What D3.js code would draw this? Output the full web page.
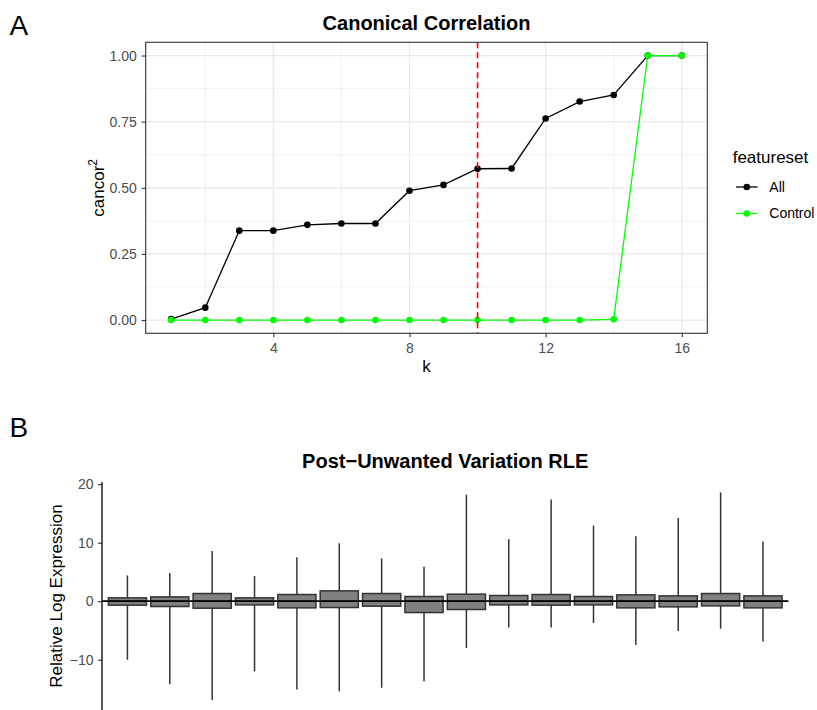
<!DOCTYPE html>
<html>
<head>
<meta charset="utf-8">
<script src="https://cdn.jsdelivr.net/npm/d3@7"></script>
<style>
body { margin: 0; background: #fff; }
text { font-family: "Liberation Sans", Arial, Helvetica, sans-serif; }
</style>
</head>
<body>
<div id="chart-container"></div>
<script>
// ---- Panel A data (canonical correlation per k)
const kValues = [1, 2, 3, 4, 5, 6, 7, 8, 9, 10, 11, 12, 13, 14, 15, 16];
const allCancor = [0.004, 0.047, 0.338, 0.338, 0.360, 0.365, 0.365, 0.489, 0.511, 0.572, 0.573, 0.762, 0.826, 0.851, 1.0, 1.0];
const controlCancor = [0, 0, 0, 0, 0, 0, 0, 0, 0, 0, 0, 0, 0, 0.003, 1.0, 1.0];
const chosenK = 10;
const featuresets = ["All", "Control"];
const featureColors = ["#000000", "#00ff00"];
const xTicksA = [4, 8, 12, 16];
const yTicksA = [0, 0.25, 0.5, 0.75, 1];

// ---- Panel B data (RLE boxplots, one per sample)
const samples = ["1", "2", "3", "4", "5", "6", "7", "8", "9", "10", "11", "12", "13", "14", "15", "16"];
const whiskerLow = [-10.0, -14.2, -16.9, -12.0, -15.1, -15.4, -14.8, -13.7, -8.0, -4.5, -4.5, -3.7, -7.5, -5.1, -4.7, -6.9];
const boxLow = [-0.68, -0.91, -1.20, -0.63, -1.14, -1.08, -0.85, -1.94, -1.42, -0.63, -0.68, -0.63, -1.14, -0.97, -0.80, -1.14];
const medians = [0, 0, 0, 0, 0, 0, 0, 0, 0, 0, 0, 0, 0, 0, 0, 0];
const boxHigh = [0.57, 0.74, 1.31, 0.57, 1.14, 1.77, 1.31, 0.80, 1.20, 0.97, 1.14, 0.80, 1.08, 0.91, 1.31, 0.91];
const whiskerHigh = [4.4, 4.8, 8.6, 4.3, 7.5, 9.9, 7.3, 5.9, 18.2, 10.6, 17.4, 12.9, 11.1, 14.2, 18.6, 10.2];
const yTicksB = [-10, 0, 10, 20];

const W = 817, H = 710;
const svg = d3.select("#chart-container")
  .append("svg")
  .attr("width", W)
  .attr("height", H)
  .style("display", "block");

svg.append("rect").attr("width", W).attr("height", H).attr("fill", "#fff");

const tickColor = "#4d4d4d";

// ================= Panel A =================
const pa = {left: 145.7, top: 42.3, right: 707.3, bottom: 333.3};

const kExt = d3.extent(kValues);
const kPad = (kExt[1] - kExt[0]) * 0.05;
const x = d3.scaleLinear()
  .domain([kExt[0] - kPad, kExt[1] + kPad])
  .range([pa.left, pa.right]);

const cExt = d3.extent(allCancor.concat(controlCancor));
const cPad = (cExt[1] - cExt[0]) * 0.05;
const y = d3.scaleLinear()
  .domain([cExt[0] - cPad, cExt[1] + cPad])
  .range([pa.bottom, pa.top]);

const gA = svg.append("g");

// grid
const xMinor = xTicksA.map(t => t - 2);
const yMinor = yTicksA.slice(1).map(t => t - 0.125);
gA.selectAll(".xminor").data(xMinor).join("line")
  .attr("x1", d => x(d)).attr("x2", d => x(d))
  .attr("y1", pa.top).attr("y2", pa.bottom)
  .attr("stroke", "#ebebeb").attr("stroke-width", 0.7);
gA.selectAll(".yminor").data(yMinor).join("line")
  .attr("x1", pa.left).attr("x2", pa.right)
  .attr("y1", d => y(d)).attr("y2", d => y(d))
  .attr("stroke", "#ebebeb").attr("stroke-width", 0.7);
gA.selectAll(".xmajor").data(xTicksA).join("line")
  .attr("x1", d => x(d)).attr("x2", d => x(d))
  .attr("y1", pa.top).attr("y2", pa.bottom)
  .attr("stroke", "#e8e8e8").attr("stroke-width", 1.2);
gA.selectAll(".ymajor").data(yTicksA).join("line")
  .attr("x1", pa.left).attr("x2", pa.right)
  .attr("y1", d => y(d)).attr("y2", d => y(d))
  .attr("stroke", "#e8e8e8").attr("stroke-width", 1.2);

// lines + points
const series = featuresets.map((name, i) => ({
  name: name,
  color: featureColors[i],
  values: kValues.map((k, j) => ({k: k, v: i === 0 ? allCancor[j] : controlCancor[j]}))
}));

const line = d3.line()
  .x(d => x(d.k))
  .y(d => y(d.v));

gA.selectAll(".line").data(series).join("path")
  .attr("class", "line")
  .attr("d", d => line(d.values))
  .attr("fill", "none")
  .attr("stroke", d => d.color)
  .attr("stroke-width", 1.3);

series.forEach(s => {
  gA.append("g").selectAll("circle").data(s.values).join("circle")
    .attr("cx", d => x(d.k))
    .attr("cy", d => y(d.v))
    .attr("r", 3.3)
    .attr("fill", s.color);
});

// chosen k
gA.append("line")
  .attr("x1", x(chosenK)).attr("x2", x(chosenK))
  .attr("y1", pa.top).attr("y2", pa.bottom)
  .attr("stroke", "#ff0000")
  .attr("stroke-width", 1.6)
  .attr("stroke-dasharray", "6,4");

// border
gA.append("rect")
  .attr("x", pa.left).attr("y", pa.top)
  .attr("width", pa.right - pa.left).attr("height", pa.bottom - pa.top)
  .attr("fill", "none").attr("stroke", "#333").attr("stroke-width", 1.1);

// axes
const styleAxis = g => {
  g.select(".domain").remove();
  g.selectAll(".tick line").attr("stroke", "#333").attr("stroke-width", 1.1);
  g.selectAll(".tick text").attr("fill", tickColor)
    .style("font-family", '"Liberation Sans", Arial, sans-serif')
    .style("font-size", "14px");
};

gA.append("g")
  .attr("transform", `translate(0,${pa.bottom})`)
  .call(d3.axisBottom(x).tickValues(xTicksA).tickSize(4).tickPadding(5.5))
  .call(styleAxis);

gA.append("g")
  .attr("transform", `translate(${pa.left},0)`)
  .call(d3.axisLeft(y).tickValues(yTicksA).tickFormat(d3.format(".2f")).tickSize(4).tickPadding(5))
  .call(styleAxis);

// titles
gA.append("text")
  .attr("x", (pa.left + pa.right) / 2).attr("y", 30)
  .attr("text-anchor", "middle")
  .style("font-size", "20px").style("font-weight", "bold")
  .text("Canonical Correlation");

gA.append("text")
  .attr("x", (pa.left + pa.right) / 2).attr("y", 372)
  .attr("text-anchor", "middle")
  .style("font-size", "17px")
  .text("k");

const yTitleA = gA.append("text")
  .attr("transform", `translate(103.5,${(pa.top + pa.bottom) / 2}) rotate(-90)`)
  .attr("text-anchor", "middle")
  .style("font-size", "17px");
yTitleA.append("tspan").text("cancor");
yTitleA.append("tspan").attr("dy", -7).style("font-size", "12px").text("2");

// legend
const legend = gA.append("g");
legend.append("text")
  .attr("x", 732.7).attr("y", 163.3)
  .style("font-size", "17px")
  .text("featureset");

const legItems = legend.selectAll(".legend").data(series).join("g")
  .attr("class", "legend")
  .attr("transform", (d, i) => `translate(0,${187 + i * 26.5})`);
legItems.append("line")
  .attr("x1", 736).attr("x2", 757.5)
  .attr("stroke", d => d.color).attr("stroke-width", 1.3);
legItems.append("circle")
  .attr("cx", 746.8).attr("r", 3.3)
  .attr("fill", d => d.color);
legItems.append("text")
  .attr("x", 769.3).attr("dy", "0.35em")
  .style("font-size", "14px")
  .text(d => d.name);

// panel letter
svg.append("text").attr("x", 9.5).attr("y", 35)
  .style("font-size", "28px").text("A");

// ================= Panel B =================
const pb = {left: 102, top: 482, right: 788.4};

const xb = d3.scalePoint()
  .domain(samples)
  .range([pb.left, pb.right])
  .padding(0.6);
const boxW = xb.step() * 0.9;

const bMin = d3.min(whiskerLow), bMax = d3.max(whiskerHigh);
const bPad = (bMax - bMin) * 0.05;
const pxPerUnit = 5.85;
const yb = d3.scaleLinear()
  .domain([bMin - bPad, bMax + bPad])
  .range([pb.top + (bMax - bMin + 2 * bPad) * pxPerUnit, pb.top]);

const boxes = samples.map((s, i) => ({
  s: s, lo: whiskerLow[i], q1: boxLow[i], med: medians[i], q3: boxHigh[i], hi: whiskerHigh[i]
}));

const gB = svg.append("g");

gB.selectAll(".whisker").data(boxes).join("line")
  .attr("x1", d => xb(d.s)).attr("x2", d => xb(d.s))
  .attr("y1", d => yb(d.lo)).attr("y2", d => yb(d.hi))
  .attr("stroke", "#333").attr("stroke-width", 1.5);

gB.selectAll(".box").data(boxes).join("rect")
  .attr("x", d => xb(d.s) - boxW / 2)
  .attr("width", boxW)
  .attr("y", d => yb(d.q3))
  .attr("height", d => yb(d.q1) - yb(d.q3))
  .attr("fill", "#808080")
  .attr("stroke", "#333")
  .attr("stroke-width", 1.5);

gB.selectAll(".median").data(boxes).join("line")
  .attr("x1", d => xb(d.s) - boxW / 2).attr("x2", d => xb(d.s) + boxW / 2)
  .attr("y1", d => yb(d.med)).attr("y2", d => yb(d.med))
  .attr("stroke", "#333").attr("stroke-width", 1.6);

// zero reference line
gB.append("line")
  .attr("x1", pb.left).attr("x2", pb.right)
  .attr("y1", yb(0)).attr("y2", yb(0))
  .attr("stroke", "#000").attr("stroke-width", 1.7);

// y axis
gB.append("g")
  .attr("transform", `translate(${pb.left},0)`)
  .call(d3.axisLeft(yb).tickValues(yTicksB).tickFormat(d3.format("d")).tickSize(4).tickPadding(4.5))
  .call(g => {
    g.select(".domain").remove();
    g.selectAll(".tick line").attr("stroke", "#333").attr("stroke-width", 1.1);
    g.selectAll(".tick text").attr("fill", tickColor)
      .style("font-family", '"Liberation Sans", Arial, sans-serif')
      .style("font-size", "14px");
  });

gB.append("line")
  .attr("x1", pb.left).attr("x2", pb.left)
  .attr("y1", yb.range()[1]).attr("y2", yb.range()[0])
  .attr("stroke", "#000").attr("stroke-width", 1.3);

gB.append("text")
  .attr("x", (pb.left + pb.right) / 2).attr("y", 468)
  .attr("text-anchor", "middle")
  .style("font-size", "20px").style("font-weight", "bold")
  .text("Post\u2212Unwanted Variation RLE");

gB.append("text")
  .attr("transform", `translate(62,596) rotate(-90)`)
  .attr("text-anchor", "middle")
  .style("font-size", "17px")
  .text("Relative Log Expression");

svg.append("text").attr("x", 9.5).attr("y", 436.5)
  .style("font-size", "28px").text("B");
</script>
</body>
</html>
